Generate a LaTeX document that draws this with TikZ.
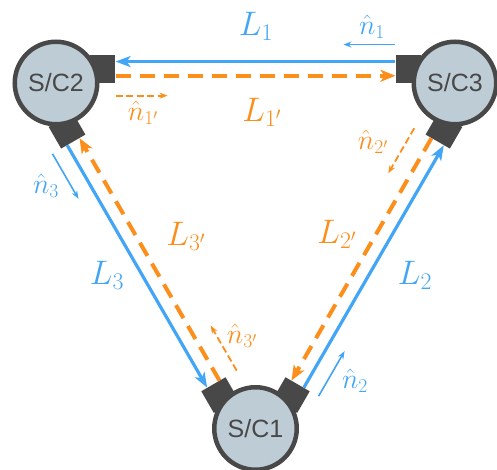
\RequirePackage{fix-cm}
\documentclass[tikz,border=0pt]{standalone}
\usepackage{fontspec}
\newfontfamily\scfont{Liberation Sans}
\usepackage{tikz}
\usetikzlibrary{calc, arrows.meta}
\definecolor{beamblue}{RGB}{66,165,245}
\definecolor{beamorange}{RGB}{252,142,28}
\definecolor{scfill}{RGB}{190,204,214}
\definecolor{scdark}{RGB}{72,72,72}

\begin{document}
\begin{tikzpicture}[x=1pt, y=1pt,
    sc/.style={circle, draw=scdark, line width=4.5pt, fill=scfill, minimum size=82.5pt, inner sep=0pt,
      text=scdark, font=\scfont\fontsize{25}{25}\selectfont},
    tel/.style={fill=scdark, minimum width=25pt, minimum height=28pt, inner sep=0pt},
    beamb/.style={beamblue, line width=3.2pt, -{Stealth[length=15pt, width=11pt, inset=4pt]}},
    beamo/.style={beamorange, line width=4pt, dash pattern=on 15pt off 9pt, -{Stealth[length=15pt, width=12pt, inset=4pt]}},
    unitb/.style={beamblue, line width=1.6pt, -{Stealth[length=8pt, width=6pt, open]}},
    unito/.style={beamorange, line width=1.8pt, dash pattern=on 7pt off 3.5pt, -{Stealth[length=8pt, width=6pt, open]}},
    lblue/.style={text=beamblue, font=\fontsize{34}{34}\selectfont},
    lorange/.style={text=beamorange, font=\fontsize{34}{34}\selectfont},
    nblue/.style={text=beamblue, font=\fontsize{28}{28}\selectfont},
    norange/.style={text=beamorange, font=\fontsize{28}{28}\selectfont}]
    \useasboundingbox (0,0) rectangle (497,470);

    \coordinate (c1) at (255.5,41.5);
    \coordinate (c2) at (56,387);
    \coordinate (c3) at (455,387);

    \node[tel, rotate=0]    (t23) at ($(c2)+(17:49)$)   {};
    \node[tel, rotate=180]  (t32) at ($(c3)+(163:49)$)  {};
    \node[tel, rotate=-60]  (t21) at ($(c2)+(-77:49)$)  {};
    \node[tel, rotate=120]  (t12) at ($(c1)+(137:49)$)  {};
    \node[tel, rotate=-120] (t31) at ($(c3)+(-103:49)$) {};
    \node[tel, rotate=60]   (t13) at ($(c1)+(43:49)$)   {};

    \node[sc] (sc1) at (c1) {S/C1};
    \node[sc] (sc2) at (c2) {S/C2};
    \node[sc] (sc3) at (c3) {S/C3};

    \foreach \a/\b/\ang in {23/32/180, 31/13/60, 12/21/-60} {
      \coordinate (b\a) at ($(t\a.east)!.5!(t\a.north east)$);
      \coordinate (o\a) at ($(t\a.east)!.5!(t\a.south east)$);
      \coordinate (b\b) at ($(t\b.east)!.5!(t\b.south east)$);
      \coordinate (o\b) at ($(t\b.east)!.5!(t\b.north east)$);
      \coordinate (nb\b) at ($(t\b.east)!1.7!(t\b.south east)$);
      \coordinate (no\a) at ($(t\a.east)!1.9!(t\a.south east)$);
      \coordinate (nbe\b) at ($(nb\b)+(\ang:52)$);
      \coordinate (noe\a) at ($(no\a)+(\ang+180:52)$);
      \draw[beamb] (b\b) -- (b\a);
      \draw[beamo] (o\a) -- (o\b);
      \draw[unitb] (nb\b) -- (nbe\b);
      \draw[unito] (no\a) -- (noe\a);
    }

    \node[lblue]   (l1)  at (256,444) {$L_1$};
    \node[lorange] (l1p) at (262,358) {$L_{1'}$};
    \node[lblue]   (l2)  at (415,195) {$L_2$};
    \node[lorange] (l2p) at (337,236) {$L_{2'}$};
    \node[lblue]   (l3)  at (107,195) {$L_3$};
    \node[lorange] (l3p) at (186,234) {$L_{3'}$};

    \node[nblue]   (n1)  at (372,443) {$\hat{n}_1$};
    \node[norange] (n1p) at (143,357) {$\hat{n}_{1'}$};
    \node[nblue]   (n2)  at (355,89)  {$\hat{n}_2$};
    \node[norange] (n2p) at (373,328) {$\hat{n}_{2'}$};
    \node[nblue]   (n3)  at (46,284)  {$\hat{n}_3$};
    \node[norange] (n3p) at (242,134) {$\hat{n}_{3'}$};
  \end{tikzpicture}
\end{document}
